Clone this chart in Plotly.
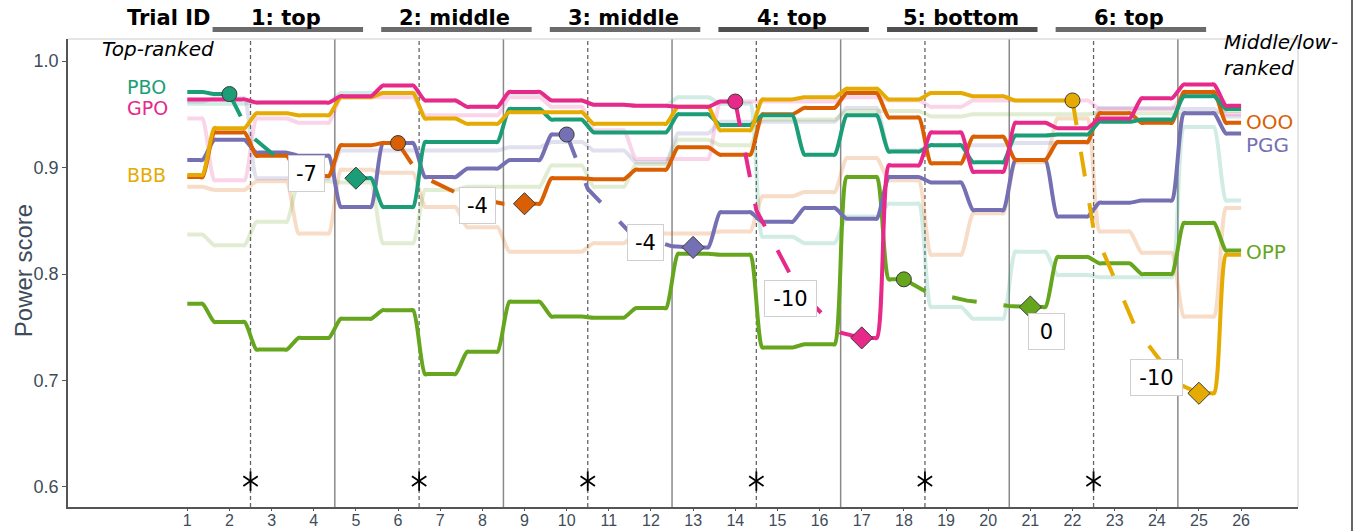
import plotly.graph_objects as go

rounds = list(range(1, 27))

# main power scores per round (None where the trial path is drawn instead)
pbo = [0.971, 0.969, None, None, 0.890, 0.863, 0.924, 0.924, 0.955, 0.945, 0.933, 0.933, 0.950,
       0.940, 0.949, 0.912, 0.949, 0.915, 0.921, 0.905, 0.930, 0.931, 0.943, 0.945, 0.967, 0.955]
gpo = [0.964, 0.964, 0.961, 0.961, 0.967, 0.977, 0.963, 0.957, 0.971, 0.963, 0.959, 0.958, 0.957,
       0.962, None, None, 0.740, 0.902, 0.933, 0.896, 0.942, 0.937, 0.946, 0.965, 0.978, 0.958]
bbb = [0.893, 0.937, 0.951, 0.949, 0.966, 0.970, 0.946, 0.941, 0.952, 0.952, 0.941, 0.941, 0.957,
       0.935, 0.964, 0.966, 0.974, 0.964, 0.970, 0.967, 0.963, 0.963, None, None, 0.688, 0.818]
ooo = [0.891, 0.933, 0.911, 0.892, 0.921, 0.923, None, None, 0.866, 0.890, 0.889, 0.898, 0.919,
       0.912, 0.950, 0.956, 0.970, 0.947, 0.904, 0.929, 0.907, 0.924, 0.951, 0.942, 0.971, 0.942]
pgg = [0.907, 0.926, 0.914, 0.911, 0.863, 0.923, 0.891, 0.899, 0.907, 0.931, None, None, 0.825,
       0.858, 0.849, 0.862, 0.852, 0.891, 0.886, 0.860, 0.907, 0.854, 0.867, 0.869, 0.951, 0.932]
opp = [0.772, 0.755, 0.729, 0.740, 0.758, 0.766, 0.706, 0.727, 0.774, 0.760, 0.759, 0.768, 0.819,
       0.818, 0.731, 0.734, 0.891, 0.795, None, None, 0.769, 0.816, 0.810, 0.800, 0.848, 0.822]

# faded comparison scores per round
pbo_alt = [0.960, 0.960, 0.961, 0.961, 0.970, 0.970, 0.963, 0.957, 0.970, 0.963, 0.959, 0.958, 0.966,
           0.960, 0.835, 0.829, 0.854, 0.866, 0.769, 0.758, 0.821, 0.799, 0.797, 0.797, 0.938, 0.869]
gpo_alt = [0.946, 0.888, 0.946, 0.942, 0.966, 0.966, 0.949, 0.949, 0.966, 0.957, 0.935, 0.908, 0.908,
           0.962, 0.962, 0.962, 0.966, 0.963, 0.957, 0.963, 0.963, 0.963, 0.955, 0.955, 0.968, 0.950]
ooo_alt = [0.882, 0.879, 0.887, 0.838, 0.898, 0.895, 0.863, 0.844, 0.821, 0.821, 0.829, 0.838, 0.838,
           0.840, 0.873, 0.877, 0.909, 0.888, 0.818, 0.857, 0.905, 0.946, 0.840, 0.820, 0.760, 0.862]
pgg_alt = [0.962, 0.965, 0.890, 0.890, 0.916, 0.916, 0.916, 0.916, 0.919, 0.924, 0.916, 0.905, 0.932,
           0.943, 0.943, 0.943, 0.956, 0.916, 0.921, 0.921, 0.923, 0.923, 0.956, 0.956, 0.955, 0.948]
opp_alt = [0.837, 0.827, 0.849, 0.887, 0.886, 0.829, 0.879, 0.882, 0.882, 0.902, 0.882, 0.903, 0.926,
           0.921, 0.945, 0.945, 0.953, 0.953, 0.948, 0.950, 0.950, 0.950, 0.951, 0.951, 0.951, 0.953]

# trial paths: from the top-ranked round to the end of the trial
pbo_path_x = [2, 2.5, 3.5, 4.5, 5]
pbo_path_y = [0.969, 0.930, 0.897, 0.891, 0.890]
ooo_path_x = [6, 6.5, 7.5, 8.5, 9]
ooo_path_y = [0.923, 0.893, 0.874, 0.866, 0.866]
pgg_path_x = [10, 10.5, 11.5, 12.5, 13]
pgg_path_y = [0.931, 0.880, 0.839, 0.826, 0.825]
gpo_path_x = [14, 14.5, 15.5, 16.5, 17]
gpo_path_y = [0.962, 0.860, 0.785, 0.745, 0.740]
opp_path_x = [18, 18.5, 19.5, 20.5, 21]
opp_path_y = [0.795, 0.784, 0.775, 0.770, 0.769]
bbb_path_x = [22, 22.5, 23.5, 24.5, 25]
bbb_path_y = [0.963, 0.842, 0.749, 0.697, 0.688]

rank_change = ['-7', '-4', '-4', '-10', '0', '-10']
change_x = [3.83, 7.88, 11.87, 15.32, 21.38, 24.0]
change_y = [0.8944, 0.8648, 0.8296, 0.777, 0.746, 0.7028]

trial_names = ['1: top', '2: middle', '3: middle', '4: top', '5: bottom', '6: top']
trial_starts = [2.5, 6.5, 10.5, 14.5, 18.5, 22.5]
block_ends = [4.5, 8.5, 12.5, 16.5, 20.5, 24.5]

colors = {'PBO': '#1b9e77', 'GPO': '#e7298a', 'BBB': '#e6ab02',
          'OOO': '#d95f02', 'PGG': '#7570b3', 'OPP': '#66a61e'}
faded = {'PBO': 'rgba(27,158,119,0.2)', 'GPO': 'rgba(231,41,138,0.2)',
         'OOO': 'rgba(217,95,2,0.22)', 'PGG': 'rgba(117,112,179,0.22)',
         'OPP': 'rgba(102,166,30,0.2)'}


def steps(vals):
    segs, cur = [], []
    for r, v in zip(rounds, vals):
        if v is None:
            if cur:
                segs.append(cur)
            cur = []
        else:
            cur.append((r, v))
    if cur:
        segs.append(cur)
    xs, ys = [], []
    for seg in segs:
        for k, (r, v) in enumerate(seg):
            if k == 0:
                pts = [r, r + 0.3, r + 0.36]
            elif k == len(seg) - 1:
                pts = [r - 0.36, r - 0.3, r]
            else:
                pts = [r - 0.36, r - 0.3, r + 0.3, r + 0.36]
            xs += pts
            ys += [v] * len(pts)
        xs.append(None)
        ys.append(None)
    return xs, ys


fig = go.Figure()

for name, vals in [('PBO', pbo_alt), ('GPO', gpo_alt), ('OOO', ooo_alt),
                   ('PGG', pgg_alt), ('OPP', opp_alt)]:
    x, y = steps(vals)
    fig.add_trace(go.Scatter(x=x, y=y, mode='lines', line=dict(color=faded[name], width=4, shape='spline'),
                             hoverinfo='skip', showlegend=False))

for name, vals in [('OPP', opp), ('PGG', pgg), ('OOO', ooo), ('PBO', pbo), ('BBB', bbb), ('GPO', gpo)]:
    x, y = steps(vals)
    fig.add_trace(go.Scatter(x=x, y=y, mode='lines', line=dict(color=colors[name], width=4, shape='spline'),
                             hoverinfo='skip', showlegend=False))

paths = [('PBO', pbo_path_x, pbo_path_y), ('OOO', ooo_path_x, ooo_path_y),
         ('PGG', pgg_path_x, pgg_path_y), ('GPO', gpo_path_x, gpo_path_y),
         ('OPP', opp_path_x, opp_path_y), ('BBB', bbb_path_x, bbb_path_y)]

for name, px_, py_ in paths:
    fig.add_trace(go.Scatter(x=px_, y=py_, mode='lines',
                             line=dict(color=colors[name], width=4, dash='25px,27px'),
                             hoverinfo='skip', showlegend=False))

for name, px_, py_ in paths:
    fig.add_trace(go.Scatter(x=[px_[0]], y=[py_[0]], mode='markers',
                             marker=dict(symbol='circle', size=15, color=colors[name],
                                         line=dict(color='#3a3a3a', width=1)),
                             hoverinfo='skip', showlegend=False))
    fig.add_trace(go.Scatter(x=[px_[-1]], y=[py_[-1]], mode='markers',
                             marker=dict(symbol='diamond', size=17, color=colors[name],
                                         line=dict(color='#3a3a3a', width=1)),
                             hoverinfo='skip', showlegend=False))

# asterisks marking the trial starts
for sym in ['y-up-open', 'y-down-open']:
    fig.add_trace(go.Scatter(x=trial_starts, y=[0.6055] * len(trial_starts), mode='markers',
                             marker=dict(symbol=sym, size=12, color='black',
                                         line=dict(color='black', width=1.8)),
                             hoverinfo='skip', showlegend=False))

shapes = []
for xs in trial_starts:
    shapes.append(dict(type='line', xref='x', yref='paper', x0=xs, x1=xs, y0=0, y1=1, layer='below',
                       line=dict(color='#666666', width=1.3, dash='4px,3px')))
for xe in block_ends:
    shapes.append(dict(type='line', xref='x', yref='paper', x0=xe, x1=xe, y0=0, y1=1, layer='below',
                       line=dict(color='#8a8a8a', width=1.5)))
bar_colors = ['#6b6b6b', '#6b6b6b', '#6b6b6b', '#505050', '#505050', '#6b6b6b']
for i, xs in enumerate(trial_starts):
    shapes.append(dict(type='line', xref='x', yref='paper', x0=xs - 0.9, x1=xs + 2.67,
                       y0=1.0203, y1=1.0203, line=dict(color=bar_colors[i], width=5)))
# panel border top/right and outer frame
shapes.append(dict(type='line', xref='paper', yref='paper', x0=0, x1=1, y0=1, y1=1,
                   line=dict(color='#cccccc', width=1)))
shapes.append(dict(type='line', xref='paper', yref='paper', x0=1, x1=1, y0=0, y1=1,
                   line=dict(color='#cccccc', width=1)))
shapes.append(dict(type='line', xref='paper', yref='paper', x0=1.0439, x1=1.0439, y0=-0.06, y1=1.09,
                   line=dict(color='#333333', width=1.5)))

annotations = []
bold = dict(family='DejaVu Sans', size=21, color='black')
annotations.append(dict(x=0.57, y=1.0449, xref='x', yref='paper', text='<b>Trial ID</b>',
                        showarrow=False, font=bold, xanchor='center', yanchor='middle'))
for i, name in enumerate(trial_names):
    annotations.append(dict(x=trial_starts[i] + 0.85, y=1.0449, xref='x', yref='paper',
                            text='<b>' + name + '</b>', showarrow=False, font=bold,
                            xanchor='center', yanchor='middle'))

italic = dict(family='DejaVu Sans', size=20, color='black')
annotations.append(dict(x=0.31, y=0.9786, xref='x', yref='paper', text='<i>Top-ranked</i>',
                        showarrow=False, font=italic, xanchor='center', yanchor='middle'))
annotations.append(dict(x=25.55, y=0.966, xref='x', yref='paper', text='<i>Middle/low-<br>ranked</i>',
                        showarrow=False, font=italic, xanchor='left', yanchor='middle', align='left'))

# y axis title
annotations.append(dict(x=-0.0366, y=0.506, xref='paper', yref='paper', text='Power score',
                        textangle=-90, showarrow=False, xanchor='center', yanchor='middle',
                        font=dict(family='Liberation Sans', size=24, color='#3e4c5a')))

left_labels = [('PBO', 0.9756), ('GPO', 0.956), ('BBB', 0.8934)]
for name, yy in left_labels:
    annotations.append(dict(x=-0.47, y=yy, xref='x', yref='y', text=name, showarrow=False,
                            font=dict(family='DejaVu Sans', size=19, color=colors[name]),
                            xanchor='left', yanchor='middle'))
right_labels = [('OOO', 0.9423), ('PGG', 0.9216), ('OPP', 0.8211)]
for name, yy in right_labels:
    annotations.append(dict(x=26.07, y=yy, xref='x', yref='y', text=name, showarrow=False,
                            font=dict(family='DejaVu Sans', size=20, color=colors[name]),
                            xanchor='left', yanchor='middle'))

for t, xx, yy in zip(rank_change, change_x, change_y):
    annotations.append(dict(x=xx, y=yy, xref='x', yref='y', text=t, showarrow=False,
                            font=dict(family='DejaVu Sans', size=21, color='black'),
                            bgcolor='white', bordercolor='#cfcfcf', borderwidth=1, borderpad=4,
                            width=43 if len(t) == 3 else 27, height=27,
                            xanchor='center', yanchor='middle'))

tick_font = dict(family='Liberation Sans', size=18, color='#3e4c5a')
fig.update_layout(
    width=1357, height=531,
    margin=dict(l=68, r=59, t=39, b=24, autoexpand=False),
    paper_bgcolor='white', plot_bgcolor='white',
    shapes=shapes, annotations=annotations,
    xaxis=dict(range=[-1.83, 27.35], tickvals=rounds, ticktext=[str(r) for r in rounds],
               automargin=False,
               showgrid=False, zeroline=False, showline=True, linecolor='#555555', linewidth=1.5,
               ticks='outside', ticklen=2, tickcolor='#555555', ticklabelstandoff=-4,
               tickfont=dict(family='Liberation Sans', size=16, color='#3e4c5a')),
    yaxis=dict(range=[0.5812, 1.0207], tickvals=[0.6, 0.7, 0.8, 0.9, 1.0],
               ticktext=['0.6', '0.7', '0.8', '0.9', '1.0'], automargin=False,
               showgrid=False, zeroline=False, showline=True, linecolor='#555555', linewidth=1.5,
               ticks='outside', ticklen=4, tickcolor='#555555', tickfont=tick_font),
)

# drop the browser's default body margin so the figure fills the window exactly
fig.write_html("out.html", config={'displayModeBar': False},
               post_script="document.body.style.margin = '0';")
